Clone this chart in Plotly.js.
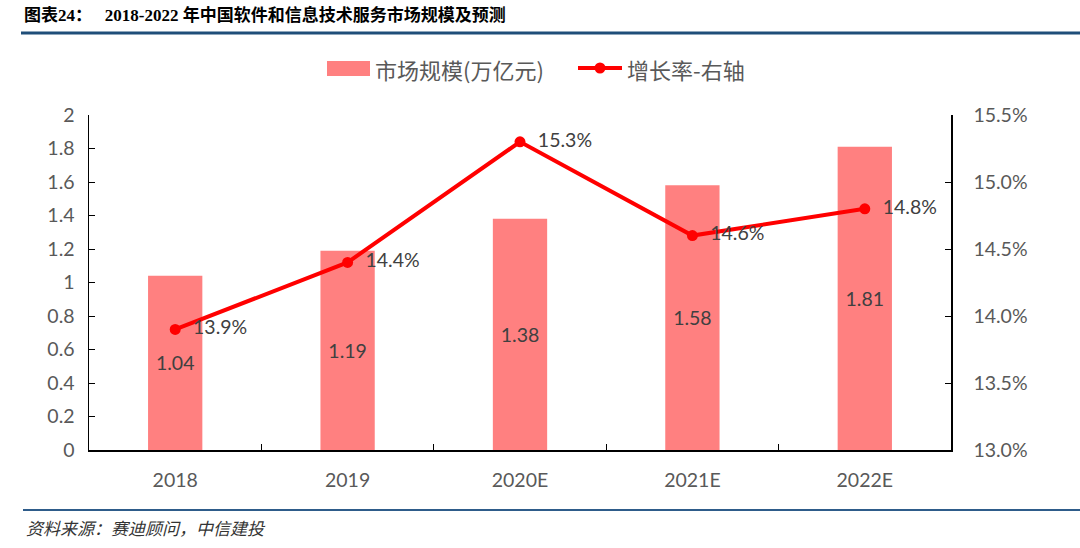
<!DOCTYPE html>
<html>
<head>
<meta charset="utf-8">
<script src="https://cdn.plot.ly/plotly-3.0.1.min.js"></script>
<style>
html,body{margin:0;padding:0;background:#fff;}
#chart{width:1080px;height:548px;}
</style>
</head>
<body>
<div id="chart"></div>
<script>
const categories = ['2018', '2019', '2020E', '2021E', '2022E'];
const marketSize = [1.04, 1.19, 1.38, 1.58, 1.81];
const growthRate = [0.139, 0.144, 0.153, 0.146, 0.148];
const barName = '市场规模(万亿元)';
const lineName = '增长率-右轴';

const barColor = '#FF8080';
const lineColor = '#FF0000';
const tickFont = {family: 'Lato, "Noto Sans CJK SC", sans-serif', size: 19.5, color: '#595959'};

const bars = {
  type: 'bar', x: categories, y: marketSize, name: barName,
  marker: {color: barColor},
  width: 0.315,
  text: marketSize.map(v => v.toFixed(2)),
  textposition: 'inside', insidetextanchor: 'middle',
  textfont: {family: tickFont.family, size: 19.5, color: '#404040'},
  hoverinfo: 'none'
};
const line = {
  type: 'scatter', mode: 'lines+markers+text', x: categories, y: growthRate, name: lineName,
  yaxis: 'y2',
  line: {color: lineColor, width: 4},
  marker: {color: lineColor, size: 11},
  text: growthRate.map(v => '\u00a0\u00a0' + (v * 100).toFixed(1) + '%'),
  textposition: 'middle right',
  textfont: {family: tickFont.family, size: 19.5, color: '#404040'},
  cliponaxis: false,
  hoverinfo: 'none'
};

const legendFont = {family: '"Noto Sans CJK SC", sans-serif', size: 22, color: '#595959'};
const px = x => (x - 89) / 862;
const py = y => (450 - y) / 335;

const layout = {
  width: 1080, height: 548,
  paper_bgcolor: '#fff', plot_bgcolor: '#fff',
  margin: {l: 89, r: 129, t: 115, b: 98},
  showlegend: false,
  xaxis: {
    type: 'category', showline: true, linecolor: '#000', linewidth: 1.5,
    ticks: 'inside', ticklen: 6, tickcolor: '#000', tickson: 'boundaries',
    showgrid: false, tickfont: tickFont, zeroline: false, ticklabelstandoff: 12
  },
  yaxis: {
    range: [0, 2], dtick: 0.2, showline: true, linecolor: '#000', linewidth: 1.5,
    ticks: 'inside', ticklen: 6, tickcolor: '#000', showgrid: false, zeroline: false,
    tickfont: tickFont, tickformat: '~g', ticklabelstandoff: 9
  },
  yaxis2: {
    range: [0.13, 0.155], dtick: 0.005, overlaying: 'y', side: 'right',
    showline: true, linecolor: '#000', linewidth: 1.5,
    ticks: 'inside', ticklen: 6, tickcolor: '#000', showgrid: false, zeroline: false,
    tickfont: tickFont, tickformat: '.1%', ticklabelstandoff: 17
  },
  shapes: [
    {type: 'line', xref: 'paper', yref: 'paper', x0: px(21), x1: px(1080), y0: py(33), y1: py(33),
      line: {color: '#1F4E79', width: 3}},
    {type: 'line', xref: 'paper', yref: 'paper', x0: px(23), x1: px(1080), y0: py(510), y1: py(510),
      line: {color: '#2E5C8A', width: 2}},
    {type: 'rect', xref: 'paper', yref: 'paper', x0: px(327), x1: px(370), y0: py(61), y1: py(76),
      fillcolor: barColor, line: {width: 0}},
    {type: 'line', xref: 'paper', yref: 'paper', x0: px(578), x1: px(622), y0: py(68), y1: py(68),
      line: {color: lineColor, width: 4}},
    {type: 'circle', xref: 'paper', yref: 'paper', x0: px(594.5), x1: px(605.5), y0: py(62.5), y1: py(73.5),
      fillcolor: lineColor, line: {width: 0}}
  ],
  annotations: [
    {xref: 'paper', yref: 'paper', x: px(22), y: py(15), xanchor: 'left', yanchor: 'middle', showarrow: false,
      text: '<b>图表24：   2018-2022 年中国软件和信息技术服务市场规模及预测</b>',
      font: {family: '"Liberation Serif", "Noto Sans CJK SC", serif', size: 17, color: '#000'}},
    {xref: 'paper', yref: 'paper', x: px(373), y: py(69), xanchor: 'left', yanchor: 'middle', showarrow: false,
      text: barName, font: legendFont},
    {xref: 'paper', yref: 'paper', x: px(625), y: py(69), xanchor: 'left', yanchor: 'middle', showarrow: false,
      text: lineName, font: legendFont},
    {xref: 'paper', yref: 'paper', x: px(24), y: py(527), xanchor: 'left', yanchor: 'middle', showarrow: false,
      text: '<i>资料来源：赛迪顾问，中信建投</i>',
      font: {family: '"Noto Sans CJK SC", sans-serif', size: 17, color: '#333'}}
  ]
};

Plotly.newPlot('chart', [bars, line], layout, {displayModeBar: false, staticPlot: true});
</script>
</body>
</html>
